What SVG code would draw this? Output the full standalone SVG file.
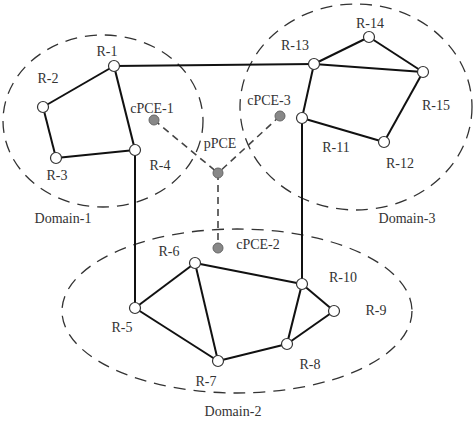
<svg xmlns="http://www.w3.org/2000/svg" width="474" height="421" viewBox="0 0 474 421">
<style>
.dom{fill:none;stroke:#333;stroke-width:1.3;stroke-dasharray:12 8}
.e{stroke:#111;stroke-width:2;fill:none}
.d{stroke:#444;stroke-width:1.6;stroke-dasharray:7 5;fill:none}
.r{fill:#fff;stroke:#333;stroke-width:1.2}
.p{fill:#888;stroke:#666;stroke-width:1}
text{font-family:"Liberation Serif","Times New Roman",serif;font-size:14px;fill:#333;text-anchor:middle}
</style>
<rect width="474" height="421" fill="#fff"/>
<g id="domains">
<ellipse class="dom" cx="103" cy="121" rx="100" ry="86"/>
<ellipse class="dom" cx="356" cy="107" rx="116" ry="103"/>
<ellipse class="dom" cx="237" cy="311" rx="175" ry="82"/>
</g>
<g id="connectors">
<line class="e" x1="114" y1="66" x2="43" y2="107"/>
<line class="e" x1="43" y1="107" x2="56" y2="158"/>
<line class="e" x1="56" y1="158" x2="135" y2="150"/>
<line class="e" x1="135" y1="150" x2="114" y2="66"/>
<line class="e" x1="114" y1="66" x2="314" y2="64"/>
<line class="e" x1="135" y1="150" x2="135" y2="308"/>
<line class="e" x1="314" y1="64" x2="369" y2="37"/>
<line class="e" x1="369" y1="37" x2="423" y2="72"/>
<line class="e" x1="314" y1="64" x2="423" y2="72"/>
<line class="e" x1="314" y1="64" x2="302" y2="118"/>
<line class="e" x1="302" y1="118" x2="384" y2="142"/>
<line class="e" x1="384" y1="142" x2="423" y2="72"/>
<line class="e" x1="302" y1="118" x2="302" y2="284"/>
<line class="e" x1="135" y1="308" x2="195" y2="263"/>
<line class="e" x1="135" y1="308" x2="218" y2="361"/>
<line class="e" x1="195" y1="263" x2="218" y2="361"/>
<line class="e" x1="195" y1="263" x2="302" y2="284"/>
<line class="e" x1="302" y1="284" x2="287" y2="344"/>
<line class="e" x1="302" y1="284" x2="334" y2="311"/>
<line class="e" x1="334" y1="311" x2="287" y2="344"/>
<line class="e" x1="287" y1="344" x2="218" y2="361"/>
<line class="d" x1="154" y1="120" x2="218" y2="173"/>
<line class="d" x1="280" y1="116" x2="218" y2="173"/>
<line class="d" x1="218" y1="173" x2="218" y2="248"/>
</g>
<g id="R-1"><circle class="r" cx="114" cy="66" r="5.5"/><text x="107" y="56">R-1</text></g>
<g id="R-2"><circle class="r" cx="43" cy="107" r="5.5"/><text x="48" y="83">R-2</text></g>
<g id="R-3"><circle class="r" cx="56" cy="158" r="5.5"/><text x="57" y="180">R-3</text></g>
<g id="R-4"><circle class="r" cx="135" cy="150" r="5.5"/><text x="160" y="170">R-4</text></g>
<g id="R-5"><circle class="r" cx="135" cy="308" r="5.5"/><text x="122" y="332">R-5</text></g>
<g id="R-6"><circle class="r" cx="195" cy="263" r="5.5"/><text x="169" y="256">R-6</text></g>
<g id="R-7"><circle class="r" cx="218" cy="361" r="5.5"/><text x="206" y="386">R-7</text></g>
<g id="R-8"><circle class="r" cx="287" cy="344" r="5.5"/><text x="310" y="369">R-8</text></g>
<g id="R-9"><circle class="r" cx="334" cy="311" r="5.5"/><text x="376" y="315">R-9</text></g>
<g id="R-10"><circle class="r" cx="302" cy="284" r="5.5"/><text x="343" y="282">R-10</text></g>
<g id="R-11"><circle class="r" cx="302" cy="118" r="5.5"/><text x="336" y="152">R-11</text></g>
<g id="R-12"><circle class="r" cx="384" cy="142" r="5.5"/><text x="400" y="168">R-12</text></g>
<g id="R-13"><circle class="r" cx="314" cy="64" r="5.5"/><text x="295" y="50">R-13</text></g>
<g id="R-14"><circle class="r" cx="369" cy="37" r="5.5"/><text x="370" y="28">R-14</text></g>
<g id="R-15"><circle class="r" cx="423" cy="72" r="5.5"/><text x="436" y="110">R-15</text></g>
<g id="cPCE-1"><circle class="p" cx="154" cy="120" r="5"/><text x="152" y="113">cPCE-1</text></g>
<g id="cPCE-2"><circle class="p" cx="218" cy="248" r="5"/><text x="258" y="249">cPCE-2</text></g>
<g id="cPCE-3"><circle class="p" cx="280" cy="116" r="5"/><text x="269" y="105">cPCE-3</text></g>
<g id="pPCE"><circle class="p" cx="218" cy="173" r="5"/><text x="220" y="148">pPCE</text></g>
<g id="labels">
<text x="63" y="223">Domain-1</text>
<text x="233" y="416">Domain-2</text>
<text x="407" y="223">Domain-3</text>
</g>
</svg>
